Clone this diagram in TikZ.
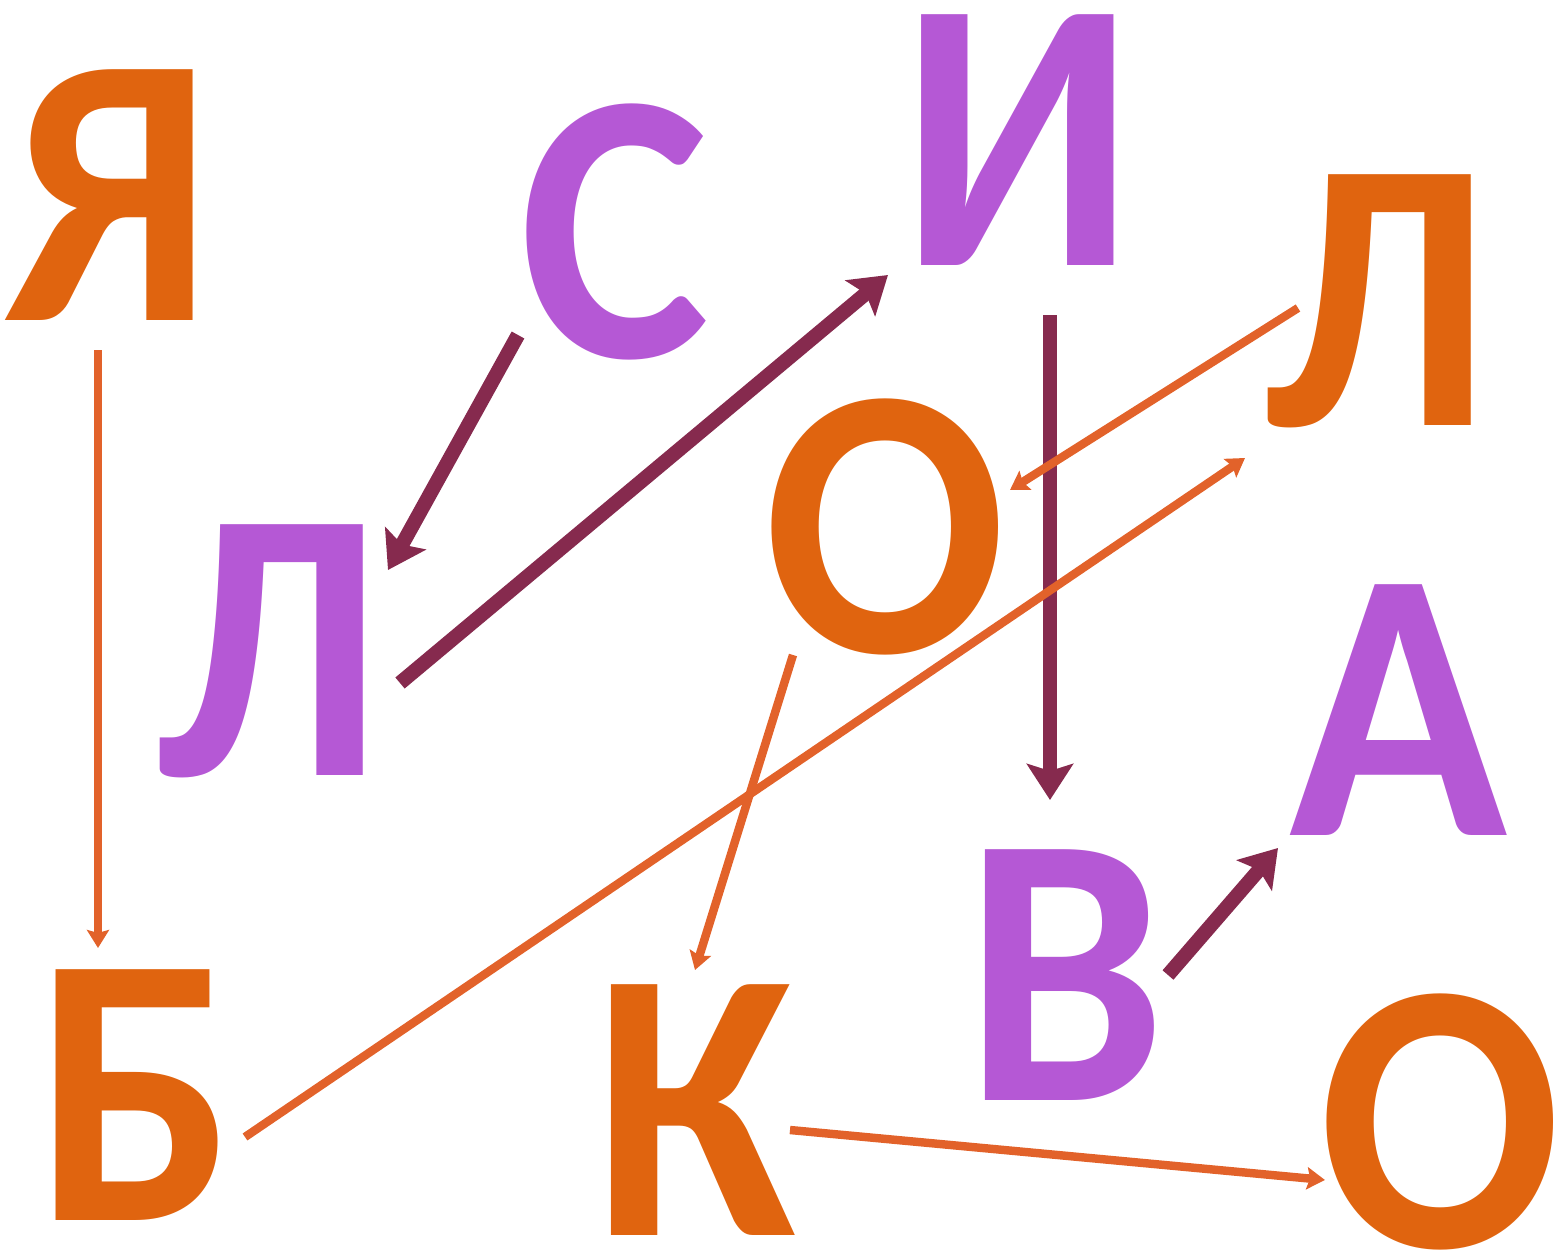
\documentclass[tikz,border=0pt]{standalone}
\usepackage{fontspec}
\setmainfont{Carlito}[FakeStretch=0.93]
\usetikzlibrary{arrows.meta}
\definecolor{orlet}{HTML}{E0640F}
\definecolor{pulet}{HTML}{B558D5}
\definecolor{puarr}{HTML}{862A4E}
\definecolor{orarr}{HTML}{E2622A}
\tikzset{
  letter/.style={anchor=base,inner sep=0pt,text height=2.45cm,text depth=0pt,font=\fontsize{110pt}{110pt}\selectfont\bfseries},
  orange letter/.style={letter,text=orlet},
  purple letter/.style={letter,text=pulet},
  purple arrow/.style={draw=puarr,line width=4.1pt,-{Stealth[length=3.6mm,width=4.6mm,inset=0.7mm]}},
  orange arrow/.style={draw=orarr,line width=2.4pt,-{Stealth[length=1.8mm,width=2.2mm,inset=0.3mm]}}
}
\begin{document}
\begin{tikzpicture}[x=0.01cm,y=-0.01cm]
\useasboundingbox (0,0) rectangle (1553,1257);
\node[orange letter] (ya) at (110,320) {Я};
\node[purple letter] (es) at (615,357) {С};
\node[purple letter] (ii) at (1018,265) {И};
\node[orange letter] (el) at (1378,425) {Л};
\node[purple letter] (lp) at (270,775) {Л};
\node[orange letter] (oo) at (885,652) {О};
\node[purple letter] (aa) at (1398,835) {А};
\node[purple letter] (ve) at (1065,1100) {В};
\node[orange letter] (be) at (135,1220) {Б};
\node[orange letter] (ka) at (695,1235) {К};
\node[orange letter] (ol) at (1440,1247) {О};
\draw[purple arrow] ([shift={(-97,-22)}]es.base) -- ([shift={(118,-205)}]lp.base);
\draw[purple arrow] ([shift={(130,-92)}]lp.base) -- ([shift={(-130,10)}]ii.base);
\draw[purple arrow] ([shift={(32,50)}]ii.base) -- ([shift={(-15,-300)}]ve.base);
\draw[purple arrow] ([shift={(103,-125)}]ve.base) -- ([shift={(-120,13)}]aa.base);
\draw[orange arrow] ([shift={(-12,30)}]ya.base) -- ([shift={(-37,-272)}]be.base);
\draw[orange arrow] ([shift={(-80,-117)}]el.base) -- ([shift={(125,-162)}]oo.base);
\draw[orange arrow] ([shift={(110,-83)}]be.base) -- ([shift={(-133,33)}]el.base);
\draw[orange arrow] ([shift={(-92,3)}]oo.base) -- ([shift={(0,-265)}]ka.base);
\draw[orange arrow] ([shift={(95,-105)}]ka.base) -- ([shift={(-115,-67)}]ol.base);
\end{tikzpicture}
\end{document}
